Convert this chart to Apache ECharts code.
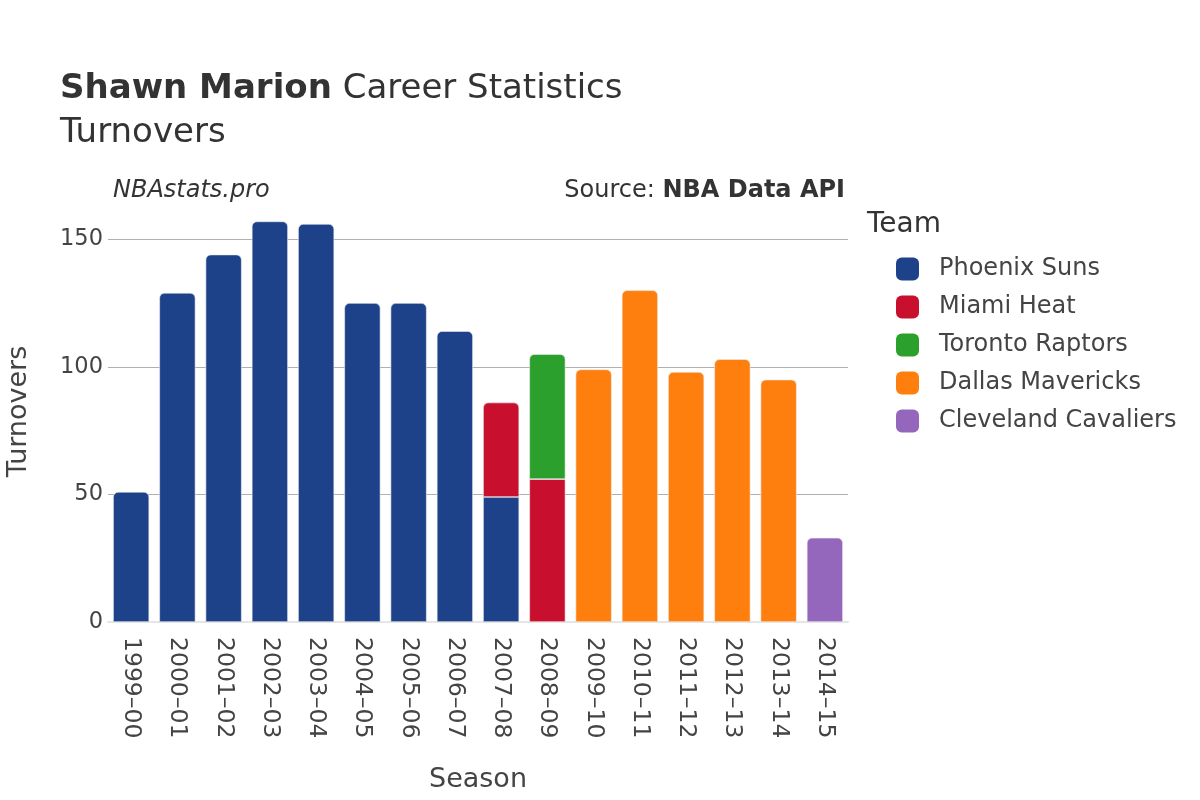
<!DOCTYPE html>
<html>
<head>
<meta charset="utf-8">
<script src="https://cdn.jsdelivr.net/npm/echarts@6/dist/echarts.min.js"></script>
<style>html,body{margin:0;padding:0;background:#fff}#c{width:1200px;height:800px}</style>
</head>
<body>
<div id="c"></div>
<script>
const seasons = ['1999–00','2000–01','2001–02','2002–03','2003–04','2004–05','2005–06','2006–07','2007–08','2008–09','2009–10','2010–11','2011–12','2012–13','2013–14','2014–15'];
const teams = ['Phoenix Suns','Miami Heat','Toronto Raptors','Dallas Mavericks','Cleveland Cavaliers'];
const teamColors = ['#1d428a','#c8102e','#2ca02c','#ff7f0e','#9467bd'];
const phoenix   = [51,129,144,157,156,125,125,114,49,null,null,null,null,null,null,null];
const miami     = [null,null,null,null,null,null,null,null,37,56,null,null,null,null,null,null];
const toronto   = [null,null,null,null,null,null,null,null,null,49,null,null,null,null,null,null];
const dallas    = [null,null,null,null,null,null,null,null,null,null,99,130,98,103,95,null];
const cleveland = [null,null,null,null,null,null,null,null,null,null,null,null,null,null,null,33];

const all = [phoenix, miami, toronto, dallas, cleveland];
const series = all.map((arr, si) => ({
  name: teams[si],
  type: 'bar',
  stack: 'total',
  barCategoryGap: '22%',
  itemStyle: { color: teamColors[si], borderColor: '#eeeeee', borderWidth: 0.6 },
  data: arr.map((v, i) => {
    if (v == null) return null;
    let top = true;
    for (let k = si + 1; k < all.length; k++) if (all[k][i] != null) top = false;
    return { value: v, itemStyle: { borderRadius: top ? [5,5,0,0] : 0 } };
  })
}));

const FF = 'DejaVu Sans';
const chart = echarts.init(document.getElementById('c'));
chart.setOption({
  animation: false,
  textStyle: { fontFamily: FF },
  grid: { left: 108, right: 352, top: 201, bottom: 178, outerBoundsMode: 'none', containLabel: false },
  xAxis: {
    type: 'category',
    data: seasons,
    axisLine: { show: true, lineStyle: { color: '#e6e6e6', width: 2 } },
    axisTick: { show: false },
    axisLabel: { rotate: -90, fontSize: 23.5, color: '#444', margin: 15 },
    name: 'Season', nameLocation: 'middle', nameGap: 144,
    nameTextStyle: { fontSize: 27, color: '#444' }
  },
  yAxis: {
    type: 'value', min: 0, max: 165, interval: 50,
    axisLine: { show: false }, axisTick: { show: false },
    axisLabel: { fontSize: 22.5, color: '#444', margin: 5, showMaxLabel: false },
    splitLine: { showMaxLine: false, lineStyle: { color: '#b0b0b0', width: 1 } },
    name: 'Turnovers', nameLocation: 'middle', nameGap: 76, nameRotate: 90,
    nameTextStyle: { fontSize: 27, color: '#444' }
  },
  legend: {
    orient: 'vertical', left: 891, top: 252,
    icon: 'roundRect', itemWidth: 23, itemHeight: 23, itemGap: 14,
    itemStyle: { borderWidth: 0 },
    textStyle: { fontSize: 24, color: '#444', padding: [0,0,0,15] },
    data: teams
  },
  graphic: [
    { type: 'text', left: 60, top: 72, style: { rich: { b: { fontWeight: 'bold', fontSize: 34, fill: '#333', fontFamily: FF }, n: { fontSize: 34, fill: '#333', fontFamily: FF } }, text: '{b|Shawn Marion}{n| Career Statistics}' } },
    { type: 'text', left: 60, top: 116, style: { text: 'Turnovers', fontSize: 34, fill: '#333', fontFamily: FF } },
    { type: 'text', left: 113, top: 179, style: { text: 'NBAstats.pro', fontSize: 24, fontStyle: 'italic', fill: '#333', fontFamily: FF } },
    { type: 'text', right: 355, top: 179, style: { rich: { n: { fontSize: 24, fill: '#333', fontFamily: FF }, b: { fontSize: 24, fontWeight: 'bold', fill: '#333', fontFamily: FF } }, text: '{n|Source: }{b|NBA Data API}' } },
    { type: 'text', left: 867, top: 211, style: { text: 'Team', fontSize: 28, fill: '#333', fontFamily: FF } }
  ],
  series: series
});
</script>
</body>
</html>
